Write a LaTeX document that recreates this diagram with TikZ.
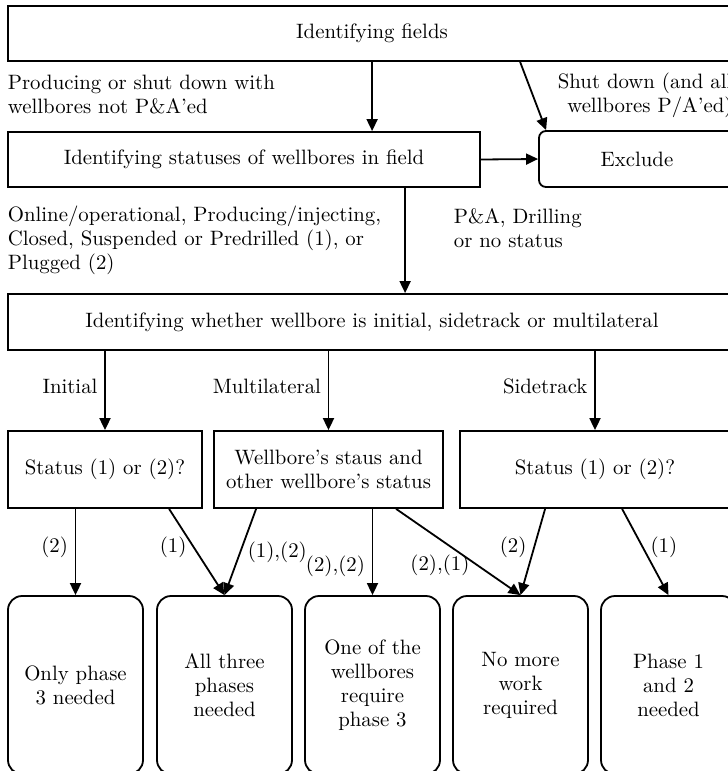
\documentclass[tikz,border=0pt]{standalone}
\usetikzlibrary{arrows.meta,calc}
\tikzset{
  box/.style={draw, align=center, inner sep=2pt},
  roundbox/.style={box, rounded corners=3.5pt},
  endbox/.style={box, rounded corners=7pt, minimum width=67.5pt, minimum height=89pt},
  rowbox/.style={box, minimum height=38.5pt},
  lbl/.style={inner sep=0pt, align=left, anchor=west},
}
\begin{document}
\begin{tikzpicture}[x=0.5pt, y=-0.5pt, line width=0.9pt, font=\fontsize{10.4}{12}\selectfont,
  >={Triangle[length=6pt,width=5.5pt]}]
\useasboundingbox (0,0) rectangle (728,771);
\clip (0,0) rectangle (728,771);
% top part
\node[box, minimum width=364pt, minimum height=27.5pt] (fields) at (372,33.5) {Identifying fields};
\node[box, minimum width=236pt, minimum height=27.5pt] (statuses) at (244,159.5) {Identifying statuses of wellbores in field};
\node[roundbox, minimum width=98pt, minimum height=28pt] (exclude) at (637,159) {Exclude};
\node[lbl] (prod) at (7,95) {Producing or shut down with\\wellbores not P\&A'ed};
\node[lbl, align=right] (shut) at (557,95) {Shut down (and all\\wellbores P/A'ed)};
\draw[->] ($(fields.south west)+(365,0)$) -- ($(statuses.north west)+(365,0)$);
\draw[->] ($(fields.south west)+(513,0)$) -- ($(exclude.north west)+(8,0)$);
\draw[->] (statuses.east) -- (exclude.west);
% middle part
\node[lbl] (online) at (7,240) {Online/operational, Producing/injecting,\\Closed, Suspended or Predrilled (1), or\\Plugged (2)};
\node[lbl] (pa) at (453,228) {P\&A, Drilling\\or no status};
\node[box, minimum width=364pt, minimum height=28pt] (whether) at (372,322) {Identifying whether wellbore is initial, sidetrack or multilateral};
\draw[->] ($(statuses.south west)+(398,0)$) -- ($(whether.north west)+(398,0)$);
\node[rowbox, minimum width=97pt] (st1) at (105,469.5) {Status (1) or (2)?};
\node[rowbox, minimum width=114.5pt] (ml) at (328.5,469.5) {Wellbore's staus and\\other wellbore's status};
\node[rowbox, minimum width=135pt] (st2) at (595,469.5) {Status (1) or (2)?};
\draw[->] (st1.north |- whether.south) -- (st1.north) node[pos=0.45, left] {Initial};
\draw[->] (ml.north |- whether.south) -- (ml.north) node[pos=0.45, left] {Multilateral};
\draw[->] (st2.north |- whether.south) -- (st2.north) node[pos=0.45, left] {Sidetrack};
% results
\node[endbox] (only3) at (75.5,685) {Only phase\\3 needed};
\node[endbox] (all3) at (224.5,685) {All three\\phases\\needed};
\node[endbox] (one3) at (372.5,685) {One of the\\wellbores\\require\\phase 3};
\node[endbox] (nomore) at (520.5,685) {No more\\work\\required};
\node[endbox] (ph12) at (668.5,685) {Phase 1\\and 2\\needed};
\draw[->] (only3.north |- st1.south) -- (only3.north) node[pos=0.45, left] {(2)};
\draw[->] ($(st1.south west)+(162,0)$) -- (all3.north) node[pos=0.45, left] {(1)};
\draw[->] ($(ml.south west)+(43,0)$) -- (all3.north) node[pos=0.5, right] {(1),(2)};
\draw[->] (one3.north |- ml.south) -- (one3.north) node[pos=0.67, left] {(2),(2)};
\draw[->] ($(ml.south west)+(183,0)$) -- (nomore.north) node[pos=0.65, left] {(2),(1)};
\draw[->] ($(st2.south west)+(86,0)$) -- (nomore.north) node[pos=0.45, left] {(2)};
\draw[->] ($(st2.south west)+(163,0)$) -- (ph12.north) node[pos=0.45, right] {(1)};
\end{tikzpicture}
\end{document}
